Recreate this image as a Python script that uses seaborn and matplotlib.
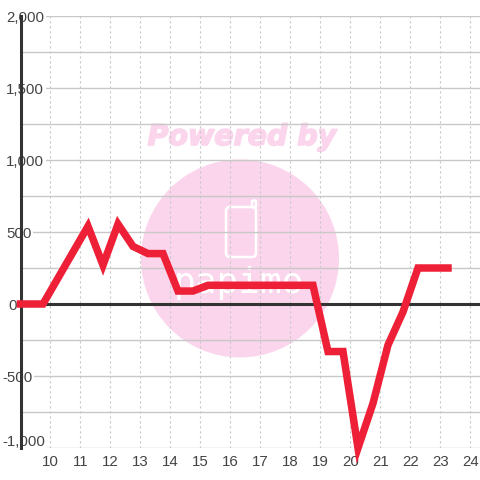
# -*- coding: utf-8 -*-
import matplotlib
matplotlib.use('Agg')
import matplotlib.pyplot as plt
import matplotlib.patheffects as pe
import seaborn as sns
import pandas as pd
from matplotlib.patches import Circle, FancyBboxPatch
from matplotlib.transforms import IdentityTransform, Affine2D

# values
hours = [9.0, 9.75, 10.25, 10.75, 11.25, 11.75, 12.25, 12.75, 13.25, 13.75,
         14.25, 14.75, 15.25, 15.75, 16.25, 16.75, 17.25, 17.75, 18.25,
         18.75, 19.25, 19.75, 20.25, 20.75, 21.25, 21.75, 22.25, 22.75, 23.25]
diff = [0, 0, 180, 360, 540, 270, 555, 400, 350, 350,
        90, 90, 130, 130, 130, 130, 130, 130, 130,
        130, -330, -330, -1000, -690, -285, -55, 250, 250, 250]
x_ticks = list(range(10, 25))
y_ticks = [-1000, -500, 0, 500, 1000, 1500, 2000]
y_minor = [-750, -250, 250, 750, 1250, 1750]
y_labels = ['-1,000', '-500', '0', '500', '1,000', '1,500', '2,000']

df = pd.DataFrame({'hour': hours, 'diff': diff})

sns.set_style('white')
plt.rcParams['font.family'] = ['Liberation Sans', 'DejaVu Sans']

PINK = '#fbd5ec'
GRID = '#c8c8c8'
DARK = '#333333'
TEXT = '#444444'

fig = plt.figure(figsize=(4.8, 4.8), dpi=100)
ax = fig.add_axes([20.5 / 480, 32 / 480, 459.5 / 480, 432 / 480])

sns.lineplot(data=df, x='hour', y='diff', color='#ee2037', linewidth=5.4,
             errorbar=None, ax=ax, zorder=4, clip_on=False,
             solid_joinstyle='miter', solid_capstyle='projecting')

ax.set_xlim(9, 24.317)
ax.set_ylim(-1000, 2000)
ax.set_xlabel('')
ax.set_ylabel('')
ax.set_xticks(x_ticks)
ax.set_yticks(y_ticks)
ax.set_yticklabels(y_labels)
ax.set_yticks(y_minor, minor=True)

ax.set_axisbelow(True)
ax.grid(True, axis='y', which='both', color=GRID, linewidth=1.0)
ax.grid(True, axis='x', color=GRID, linewidth=0.8, linestyle=(0, (2, 2.5)))
ax.axhline(0, color=DARK, linewidth=2.2, zorder=2)

for side in ['top', 'right', 'bottom']:
    ax.spines[side].set_visible(False)
ax.spines['left'].set_color(DARK)
ax.spines['left'].set_linewidth(2.2)

ax.tick_params(axis='both', which='both', length=0, labelsize=10.8,
               labelcolor=TEXT)
ax.tick_params(axis='x', pad=5)
ax.tick_params(axis='y', pad=10.5)

# y labels sit over the axis with a white box behind them
shifts = {'-1,000': (-4, 7), '-500': (-4, 0), '0': (2, 0), '500': (0, 0),
          '1,000': (0, 0), '1,500': (0, 0), '2,000': (0, 0)}
for lab in ax.get_yticklabels():
    dx, dy = shifts[lab.get_text()]
    lab.set_ha('left')
    lab.set_transform(lab.get_transform() + Affine2D().translate(dx, dy))
    lab.set_bbox(dict(facecolor='white', edgecolor='none', pad=1.5))
    lab.set_zorder(5)
    lab.set_clip_on(False)

# watermark, placed in pixels
px = IdentityTransform()
ax.add_patch(Circle((240, 480 - 258.5), 99, facecolor=PINK, edgecolor='none',
                    transform=px, zorder=0.1, clip_on=False))
ax.add_patch(FancyBboxPatch((228, 480 - 255), 26, 46,
                            boxstyle='round,pad=2,rounding_size=4',
                            facecolor='none', edgecolor='white', linewidth=1.8,
                            transform=px, zorder=0.2, clip_on=False))
ax.add_patch(FancyBboxPatch((252.5, 480 - 207), 3, 6,
                            boxstyle='round,pad=0.5,rounding_size=1.5',
                            facecolor=PINK, edgecolor='white', linewidth=1.8,
                            transform=px, zorder=0.2, clip_on=False))
ax.text(239, 480 - 293, 'papimo', color='white', fontsize=26,
        family='DejaVu Sans Mono', ha='center', va='baseline', transform=px,
        zorder=0.2)
ax.text(242, 480 - 134, 'Powered by', color=PINK, fontsize=20.5,
        family='DejaVu Sans', fontweight='bold', fontstyle='oblique',
        ha='center', va='center_baseline', transform=px, zorder=0.2,
        path_effects=[pe.withStroke(linewidth=1.2, foreground=PINK)])

fig.savefig('out.png', dpi=100)
